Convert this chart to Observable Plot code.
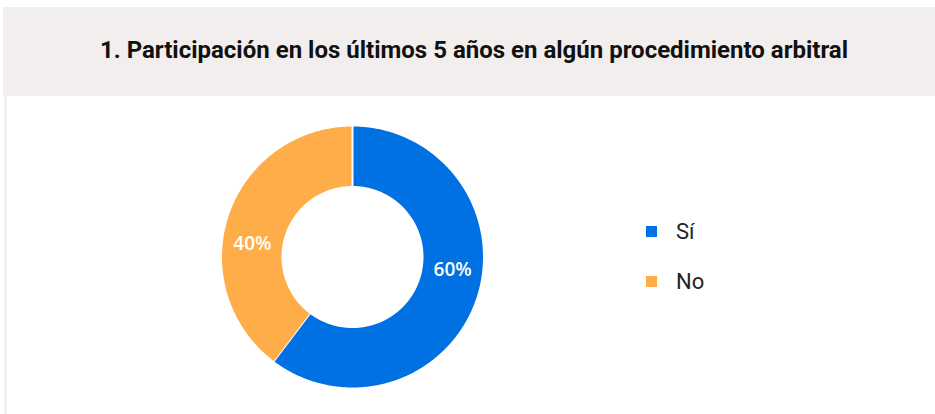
<!DOCTYPE html>
<html>
<head>
<meta charset="utf-8">
<script src="https://cdn.jsdelivr.net/npm/d3@7"></script>
<script src="https://cdn.jsdelivr.net/npm/@observablehq/plot@0.6"></script>
<style>
  html, body { margin: 0; padding: 0; background: #ffffff; }
  #page { position: relative; width: 935px; height: 414px; overflow: hidden; background: #fff; }
  #title {
    position: absolute; left: 3px; top: 7px; width: 932px; height: 89px;
    background: #f1eeed; box-sizing: border-box; padding-left: 10px; padding-bottom: 4px;
    display: flex; align-items: center; justify-content: center;
    font-family: Roboto, sans-serif; font-weight: 700; font-size: 24px; color: #111;
  }
  #leftbar { position: absolute; left: 4px; width: 3px; top: 96px; bottom: 0; background: #f4efef; }
  #chart { position: absolute; left: 0; top: 96px; }
  #legend { position: absolute; left: 0; top: 0; }
  .lg-item { position: absolute; display: flex; align-items: center; height: 24px;
    font-family: Roboto, sans-serif; font-size: 22px; color: #222; }
  .lg-sw { width: 11px; height: 11px; margin-right: 19px; }
</style>
</head>
<body>
<div id="page">
  <div id="title"></div>
  <div id="leftbar"></div>
  <div id="chart"></div>
  <div id="legend"></div>
</div>
<script>
// ---- data ----
const title = "1. Participación en los últimos 5 años en algún procedimiento arbitral";
const categories = ["Sí", "No"];
const values = [60.3, 39.7];
const colors = ["#0071e2", "#ffad48"];

// ---- layout (style) ----
const W = 935, H = 318;
const cx = 352, cy = 160.5, R = 131.5;      // pixel center / outer radius
const innerFrac = 70 / 131.5;               // hole size relative to outer radius
const labelFrac = 101 / 131.5;              // label radius relative to outer radius
const labelAngleOffset = -11;               // degrees (label placement style)

document.getElementById("title").textContent = title;

// slice angles (clockwise from 12 o'clock) from the data
const total = d3.sum(values);
let acc = 0;
const slices = categories.map((c, i) => {
  const a0 = acc / total * 360;
  acc += values[i];
  const a1 = acc / total * 360;
  return {cat: c, value: values[i], a0, a1, pct: values[i] / total};
});

const rad = d => d * Math.PI / 180;
const pts = [];
for (const s of slices) {
  const n = Math.max(2, Math.ceil((s.a1 - s.a0) / 0.5));
  for (let k = 0; k <= n; k++) {
    const a = rad(s.a0 + (s.a1 - s.a0) * k / n);
    pts.push({cat: s.cat, x: Math.sin(a), y: Math.cos(a)});
  }
  for (let k = n; k >= 0; k--) {
    const a = rad(s.a0 + (s.a1 - s.a0) * k / n);
    pts.push({cat: s.cat, x: innerFrac * Math.sin(a), y: innerFrac * Math.cos(a)});
  }
}

const labels = slices.map(s => {
  const a = rad((s.a0 + s.a1) / 2 + labelAngleOffset);
  return {cat: s.cat, x: labelFrac * Math.sin(a), y: labelFrac * Math.cos(a),
          text: d3.format(".0%")(s.pct)};
});

const plot = Plot.plot({
  width: W, height: H,
  margin: 0,
  style: {background: "transparent", overflow: "visible"},
  x: {domain: [-1, 1], range: [cx - R, cx + R], axis: null},
  y: {domain: [-1, 1], range: [cy + R, cy - R], axis: null},
  color: {domain: categories, range: colors},
  marks: [
    Plot.line(pts, {x: "x", y: "y", z: "cat", fill: "cat", stroke: "white",
      strokeWidth: 2, strokeLinejoin: "round", curve: "linear"}),
    Plot.text(labels, {x: "x", y: "y", text: "text", fill: "white",
      fontSize: 19, fontWeight: 600, fontFamily: "'Open Sans', sans-serif",
      textAnchor: "middle", lineAnchor: "middle"})
  ]
});
document.getElementById("chart").appendChild(plot);

// legend (HTML)
const legendX = 646, legendY0 = 219, legendDY = 50;
const lg = document.getElementById("legend");
categories.forEach((c, i) => {
  const item = document.createElement("div");
  item.className = "lg-item";
  item.style.left = legendX + "px";
  item.style.top = (legendY0 + i * legendDY) + "px";
  const sw = document.createElement("div");
  sw.className = "lg-sw";
  sw.style.background = colors[i];
  const tx = document.createElement("span");
  tx.textContent = c;
  item.appendChild(sw); item.appendChild(tx);
  lg.appendChild(item);
});
</script>
</body>
</html>
